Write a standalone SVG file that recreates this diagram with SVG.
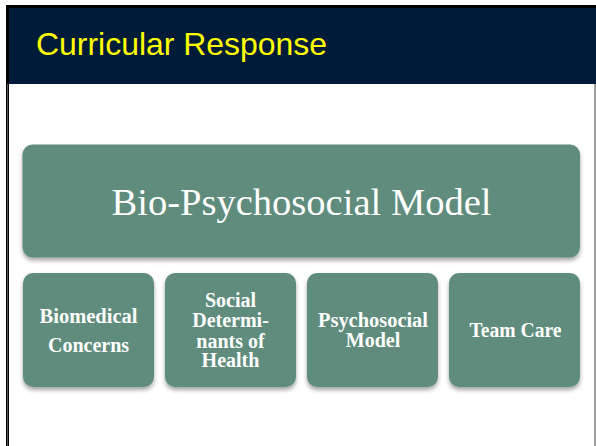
<svg xmlns="http://www.w3.org/2000/svg" width="596" height="446" viewBox="0 0 596 446">
<defs>
<filter id="sh" x="-10%" y="-10%" width="120%" height="130%">
<feDropShadow dx="0" dy="3" stdDeviation="2" flood-color="#000" flood-opacity="0.35"/>
</filter>
</defs>
<style>
.box{fill:#5E8C7B;filter:url(#sh)}
.sm{font-family:"Liberation Serif","Times New Roman",serif;font-weight:bold;font-size:20px;fill:#fff;text-anchor:middle}
.big{font-family:"Liberation Serif","Times New Roman",serif;font-size:38px;fill:#fff;text-anchor:middle}
.title{font-family:"Liberation Sans",Arial,sans-serif;font-size:32px;fill:#FFFF00}
</style>
<rect x="0" y="0" width="596" height="446" fill="#fff"/>
<rect x="6" y="5" width="590" height="3" fill="#000"/>
<rect x="6" y="5" width="3" height="441" fill="#000"/>
<rect x="7" y="84" width="1" height="362" fill="#555"/>
<rect x="594.5" y="84" width="1" height="362" fill="#444"/>
<rect x="9" y="8" width="587" height="76" fill="#001B37"/>
<text class="title" x="36" y="55" textLength="291" lengthAdjust="spacingAndGlyphs">Curricular Response</text>
<g id="bio-psychosocial">
<rect class="box" x="22.5" y="144.5" width="557.5" height="113" rx="10"/>
<text class="big" x="301.5" y="215" textLength="380" lengthAdjust="spacingAndGlyphs">Bio-Psychosocial Model</text>
</g>
<g id="biomedical">
<rect class="box" x="23" y="273" width="131" height="114" rx="10"/>
<text class="sm" x="88.5" y="323.3" textLength="98" lengthAdjust="spacingAndGlyphs">Biomedical</text>
<text class="sm" x="88.5" y="351.7">Concerns</text>
</g>
<g id="social">
<rect class="box" x="165" y="273" width="131" height="114" rx="10"/>
<text class="sm" x="230.5" y="306.7">Social</text>
<text class="sm" x="230.5" y="327.2">Determi-</text>
<text class="sm" x="230.5" y="347.5">nants of</text>
<text class="sm" x="230.5" y="366.7">Health</text>
</g>
<g id="psychosocial">
<rect class="box" x="307" y="273" width="131" height="114" rx="10"/>
<text class="sm" x="373" y="326.7" textLength="110" lengthAdjust="spacingAndGlyphs">Psychosocial</text>
<text class="sm" x="373" y="346.7">Model</text>
</g>
<g id="team-care">
<rect class="box" x="449" y="273" width="131" height="114" rx="10"/>
<text class="sm" x="515.5" y="336.7" textLength="92" lengthAdjust="spacingAndGlyphs">Team Care</text>
</g>
<g id="connectors"></g>
</svg>
